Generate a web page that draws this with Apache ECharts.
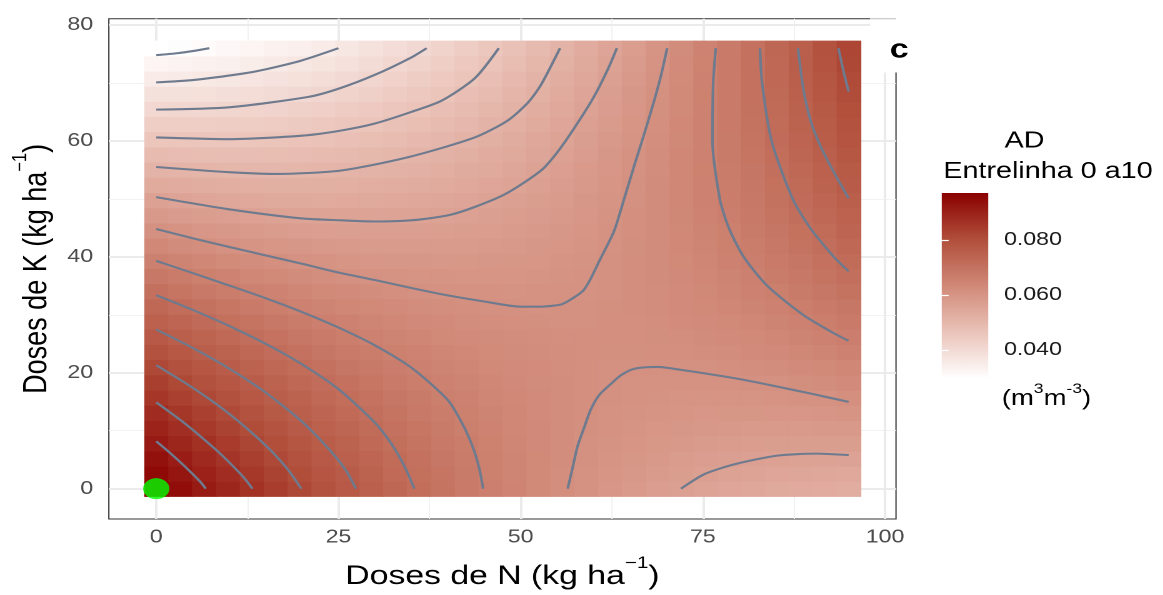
<!DOCTYPE html>
<html>
<head>
<meta charset="utf-8">
<script src="https://cdn.jsdelivr.net/npm/echarts@6/dist/echarts.min.js"></script>
<style>
  html, body { margin: 0; padding: 0; background: #ffffff; overflow: hidden; }
  /* the figure is drawn on a narrower canvas and widened horizontally */
  #chart { width: 930.4px; height: 595px; transform: scaleX(1.25); transform-origin: 0 0; }
</style>
</head>
<body>
<div id="chart"></div>
<script>
// N doses (columns of the surface grid), kg/ha
const doseN = [0, 3.28, 6.55, 9.83, 13.10, 16.38, 19.66, 22.93, 26.21, 29.48, 32.76, 36.03, 39.31, 42.59, 45.86,
  49.14, 52.41, 55.69, 58.97, 62.24, 65.52, 68.79, 72.07, 75.34, 78.62, 81.90, 85.17, 88.45, 91.72, 95.00];
// K doses (rows of the surface grid), kg/ha
const doseK = [0, 2.62, 5.24, 7.86, 10.48, 13.10, 15.72, 18.34, 20.97, 23.59, 26.21, 28.83, 31.45, 34.07, 36.69,
  39.31, 41.93, 44.55, 47.17, 49.79, 52.41, 55.03, 57.66, 60.28, 62.90, 65.52, 68.14, 70.76, 73.38, 76.00];

// AD (m3 m-3), one row per K dose, one value per N dose
const adGrid = [
  [0.09700,0.09421,0.09151,0.08891,0.08639,0.08397,0.08164,0.07939,0.07724,0.07518,0.07321,0.07134,0.06955,0.06785,0.06625,0.06473,0.06331,0.06198,0.06074,0.05959,0.05853,0.05756,0.05668,0.05590,0.05520,0.05460,0.05408,0.05366,0.05333,0.05309],
  [0.09518,0.09251,0.08992,0.08744,0.08503,0.08273,0.08051,0.07837,0.07634,0.07439,0.07254,0.07078,0.06911,0.06752,0.06604,0.06463,0.06333,0.06211,0.06098,0.05995,0.05900,0.05815,0.05738,0.05672,0.05613,0.05565,0.05524,0.05493,0.05472,0.05459],
  [0.09333,0.09077,0.08830,0.08593,0.08364,0.08145,0.07935,0.07732,0.07540,0.07357,0.07183,0.07019,0.06863,0.06716,0.06579,0.06450,0.06330,0.06220,0.06119,0.06027,0.05944,0.05870,0.05805,0.05750,0.05703,0.05666,0.05636,0.05617,0.05607,0.05606],
  [0.09145,0.08900,0.08664,0.08439,0.08221,0.08013,0.07815,0.07624,0.07443,0.07272,0.07109,0.06956,0.06812,0.06676,0.06550,0.06433,0.06325,0.06226,0.06137,0.06056,0.05984,0.05922,0.05868,0.05824,0.05789,0.05763,0.05745,0.05738,0.05739,0.05749],
  [0.08952,0.08719,0.08495,0.08281,0.08074,0.07878,0.07691,0.07512,0.07342,0.07182,0.07031,0.06890,0.06757,0.06632,0.06518,0.06412,0.06316,0.06229,0.06150,0.06081,0.06021,0.05970,0.05927,0.05895,0.05871,0.05857,0.05851,0.05854,0.05867,0.05889],
  [0.08756,0.08535,0.08322,0.08119,0.07924,0.07740,0.07564,0.07396,0.07238,0.07089,0.06950,0.06820,0.06698,0.06585,0.06482,0.06388,0.06303,0.06227,0.06160,0.06103,0.06054,0.06014,0.05983,0.05963,0.05950,0.05947,0.05952,0.05967,0.05992,0.06025],
  [0.08557,0.08347,0.08145,0.07954,0.07771,0.07597,0.07433,0.07277,0.07130,0.06993,0.06865,0.06746,0.06636,0.06535,0.06443,0.06360,0.06287,0.06222,0.06167,0.06121,0.06083,0.06055,0.06036,0.06026,0.06025,0.06034,0.06050,0.06077,0.06113,0.06157],
  [0.08354,0.08155,0.07965,0.07785,0.07613,0.07452,0.07299,0.07154,0.07019,0.06893,0.06776,0.06669,0.06570,0.06480,0.06400,0.06329,0.06267,0.06214,0.06170,0.06135,0.06109,0.06092,0.06084,0.06087,0.06097,0.06117,0.06145,0.06183,0.06230,0.06286],
  [0.08147,0.07960,0.07782,0.07613,0.07453,0.07302,0.07161,0.07027,0.06904,0.06789,0.06684,0.06589,0.06501,0.06423,0.06354,0.06294,0.06243,0.06202,0.06169,0.06146,0.06132,0.06126,0.06130,0.06143,0.06165,0.06196,0.06236,0.06285,0.06344,0.06412],
  [0.07937,0.07761,0.07594,0.07437,0.07288,0.07149,0.07019,0.06897,0.06785,0.06682,0.06588,0.06504,0.06428,0.06361,0.06304,0.06255,0.06216,0.06186,0.06165,0.06153,0.06150,0.06156,0.06171,0.06196,0.06229,0.06272,0.06323,0.06384,0.06454,0.06533],
  [0.07724,0.07559,0.07403,0.07258,0.07120,0.06993,0.06874,0.06764,0.06663,0.06572,0.06489,0.06416,0.06352,0.06296,0.06251,0.06213,0.06186,0.06167,0.06158,0.06157,0.06165,0.06183,0.06209,0.06246,0.06290,0.06345,0.06407,0.06480,0.06561,0.06651],
  [0.07506,0.07353,0.07209,0.07075,0.06949,0.06833,0.06726,0.06626,0.06537,0.06457,0.06386,0.06325,0.06272,0.06228,0.06194,0.06168,0.06151,0.06144,0.06146,0.06157,0.06177,0.06206,0.06244,0.06292,0.06348,0.06413,0.06487,0.06571,0.06664,0.06766],
  [0.07285,0.07144,0.07011,0.06888,0.06774,0.06669,0.06573,0.06486,0.06408,0.06339,0.06280,0.06230,0.06188,0.06156,0.06133,0.06118,0.06114,0.06118,0.06131,0.06154,0.06185,0.06225,0.06275,0.06334,0.06401,0.06479,0.06564,0.06659,0.06764,0.06877],
  [0.07061,0.06931,0.06810,0.06698,0.06595,0.06502,0.06418,0.06341,0.06275,0.06218,0.06170,0.06132,0.06101,0.06080,0.06069,0.06066,0.06072,0.06088,0.06113,0.06147,0.06190,0.06241,0.06302,0.06373,0.06452,0.06540,0.06637,0.06744,0.06860,0.06984],
  [0.06833,0.06714,0.06604,0.06505,0.06413,0.06331,0.06258,0.06194,0.06139,0.06093,0.06056,0.06029,0.06011,0.06001,0.06001,0.06009,0.06027,0.06055,0.06091,0.06136,0.06190,0.06254,0.06326,0.06408,0.06498,0.06599,0.06707,0.06825,0.06952,0.07088],
  [0.06601,0.06494,0.06396,0.06307,0.06227,0.06157,0.06095,0.06042,0.05999,0.05964,0.05939,0.05924,0.05916,0.05918,0.05930,0.05949,0.05979,0.06018,0.06065,0.06122,0.06188,0.06262,0.06346,0.06440,0.06541,0.06653,0.06773,0.06902,0.07041,0.07189],
  [0.06366,0.06270,0.06184,0.06107,0.06038,0.05979,0.05929,0.05887,0.05855,0.05832,0.05818,0.05814,0.05819,0.05832,0.05855,0.05886,0.05927,0.05977,0.06036,0.06104,0.06182,0.06268,0.06363,0.06468,0.06581,0.06704,0.06835,0.06976,0.07126,0.07285],
  [0.06128,0.06043,0.05968,0.05902,0.05845,0.05797,0.05759,0.05728,0.05708,0.05697,0.05694,0.05702,0.05717,0.05742,0.05776,0.05819,0.05871,0.05933,0.06003,0.06083,0.06172,0.06269,0.06376,0.06492,0.06617,0.06751,0.06894,0.07047,0.07208,0.07379],
  [0.05885,0.05812,0.05748,0.05694,0.05648,0.05612,0.05585,0.05566,0.05557,0.05557,0.05566,0.05585,0.05612,0.05648,0.05694,0.05748,0.05812,0.05885,0.05967,0.06058,0.06158,0.06267,0.06385,0.06513,0.06649,0.06795,0.06949,0.07113,0.07286,0.07468],
  [0.05640,0.05578,0.05525,0.05483,0.05448,0.05424,0.05408,0.05401,0.05403,0.05414,0.05435,0.05465,0.05504,0.05551,0.05609,0.05674,0.05749,0.05834,0.05927,0.06030,0.06141,0.06262,0.06391,0.06531,0.06678,0.06835,0.07001,0.07176,0.07361,0.07554],
  [0.05390,0.05340,0.05299,0.05268,0.05245,0.05231,0.05227,0.05231,0.05245,0.05268,0.05300,0.05342,0.05392,0.05451,0.05519,0.05596,0.05683,0.05779,0.05884,0.05998,0.06121,0.06253,0.06394,0.06544,0.06703,0.06872,0.07049,0.07236,0.07432,0.07637],
  [0.05137,0.05098,0.05069,0.05049,0.05037,0.05036,0.05043,0.05058,0.05084,0.05118,0.05161,0.05215,0.05276,0.05346,0.05427,0.05515,0.05613,0.05721,0.05837,0.05962,0.06097,0.06240,0.06392,0.06555,0.06725,0.06905,0.07094,0.07292,0.07499,0.07716],
  [0.04881,0.04853,0.04835,0.04827,0.04827,0.04836,0.04855,0.04882,0.04919,0.04964,0.05019,0.05084,0.05157,0.05239,0.05330,0.05430,0.05540,0.05659,0.05786,0.05923,0.06069,0.06224,0.06387,0.06561,0.06743,0.06935,0.07135,0.07344,0.07563,0.07791],
  [0.04620,0.04605,0.04598,0.04601,0.04612,0.04633,0.04664,0.04702,0.04750,0.04807,0.04874,0.04950,0.05034,0.05127,0.05230,0.05342,0.05463,0.05593,0.05732,0.05880,0.06038,0.06204,0.06379,0.06564,0.06758,0.06961,0.07172,0.07393,0.07623,0.07863],
  [0.04357,0.04352,0.04357,0.04372,0.04394,0.04427,0.04469,0.04518,0.04578,0.04647,0.04724,0.04812,0.04908,0.05012,0.05127,0.05250,0.05382,0.05524,0.05674,0.05834,0.06003,0.06181,0.06367,0.06564,0.06768,0.06983,0.07206,0.07438,0.07680,0.07931],
  [0.04089,0.04097,0.04113,0.04139,0.04173,0.04217,0.04270,0.04331,0.04402,0.04482,0.04571,0.04670,0.04778,0.04894,0.05020,0.05154,0.05298,0.05451,0.05613,0.05784,0.05964,0.06154,0.06352,0.06560,0.06776,0.07002,0.07236,0.07480,0.07733,0.07995],
  [0.03819,0.03837,0.03865,0.03902,0.03948,0.04003,0.04068,0.04140,0.04223,0.04314,0.04415,0.04526,0.04644,0.04772,0.04909,0.05055,0.05210,0.05375,0.05548,0.05731,0.05923,0.06123,0.06333,0.06552,0.06780,0.07017,0.07263,0.07518,0.07783,0.08056],
  [0.03544,0.03574,0.03613,0.03662,0.03719,0.03786,0.03862,0.03946,0.04040,0.04143,0.04255,0.04377,0.04507,0.04646,0.04795,0.04952,0.05119,0.05295,0.05480,0.05674,0.05877,0.06089,0.06310,0.06541,0.06780,0.07029,0.07286,0.07553,0.07829,0.08114],
  [0.03266,0.03308,0.03358,0.03418,0.03487,0.03565,0.03653,0.03748,0.03854,0.03968,0.04091,0.04225,0.04366,0.04517,0.04677,0.04846,0.05024,0.05211,0.05408,0.05613,0.05828,0.06051,0.06284,0.06526,0.06777,0.07037,0.07305,0.07584,0.07871,0.08168],
  [0.02985,0.03037,0.03099,0.03171,0.03251,0.03341,0.03440,0.03547,0.03664,0.03789,0.03924,0.04069,0.04222,0.04384,0.04556,0.04736,0.04926,0.05124,0.05332,0.05549,0.05775,0.06010,0.06254,0.06508,0.06770,0.07042,0.07321,0.07554,0.07910,0.08218]
];

// iso-lines of AD, points given as [N, K]
const contourL1  = [[0,8.19],[2,6.06],[4,3.75],[6,1.25],[6.8,0]];
const contourL2  = [[0,14.9],[4,11.19],[8,6.94],[10,4.56],[12,1.94],[13.2,0]];
const contourL3a = [[0,21.31],[5,17.42],[10,12.92],[15,7.48],[18,3.4],[19.9,0]];
const contourL3b = [[93.6,76],[94.3,72],[95,68.5]];
const contourL4a = [[0,27.46],[5,24.29],[10,20.73],[15,16.6],[20,11.56],[24,6.4],[26,3.2],[27.4,0]];
const contourL4b = [[88.05,76],[88.6,70.5],[89.05,67.2],[89.9,63],[91.0,59.5],[92.0,56.9],[93.5,53.4],[95,50.1]];
const contourL5a = [[0,33.38],[5,30.85],[10,28.08],[15,25],[20,21.46],[25,17.17],[30,11.4],[32.5,7.3],[34.2,3.5],[35.4,0]];
const contourL5b = [[82.83,76],[83.13,70],[84.43,60],[87.32,50],[89.72,45],[92.97,40],[94.58,38],[95,37.5]];
const contourL6a = [[0,39.3],[5,37.2],[10,35.06],[15,32.87],[20,30.48],[25,27.81],[30,24.73],[35,20.88],[40,15.3],[42,11.2],[43.4,7.3],[44.3,3.6],[44.85,0]];
const contourL6b = [[76.77,76],[76.42,70],[76.32,60],[77.32,50],[78.56,45],[80.6,40],[83.84,35],[88.75,30],[92.71,27],[95,25.5]];
const contourL7a = [[0,44.8],[5,43.2],[10,41.71],[15,40.25],[20,38.81],[25,37.3],[30,36.0],[35,34.63],[40,33.35],[45,32.3],[50,31.4],[52.4,31.4],[55.6,31.8],[57.2,32.9],[58.6,34.2],[59.6,36.2],[60.8,39.3],[62.8,44.4],[64.2,50],[65.6,55.8],[66.9,61],[68.1,66],[69.2,71],[70.1,76]];
const contourL7b = [[56.45,0],[57.2,4],[57.8,7.3],[58.7,10.5],[59.6,13.6],[60.8,16.2],[62.4,18.1],[63.8,19.6],[65.6,20.7],[68.8,21.0],[72,20.5],[75,19.94],[80,18.92],[85,17.67],[90,16.35],[95,14.98]];
const contourL8a = [[0,50.3],[10,48.2],[20,46.62],[25.4,46.3],[30,46.1],[35,46.3],[40,47.15],[43.7,48.6],[48,50.9],[52.8,54.9],[55,58.0],[57.4,62.3],[60,67.5],[62,72.46],[63.2,76]];
const contourL8b = [[72,0],[75.2,2.5],[79.3,4.2],[85.2,5.7],[90.6,6.05],[95,5.8]];
const contourL9  = [[0,55.5],[10,54.6],[16.3,54.3],[25.4,54.9],[34.6,57.2],[43.7,60.6],[48.2,63.5],[51,66.6],[52.8,69.7],[55.4,76]];
const contourL10 = [[0,60.6],[10,60.3],[20,60.9],[25.4,61.8],[30,63.0],[35,65.0],[39.1,66.9],[43.7,70.8],[47,76]];
const contourL11 = [[0,65.4],[10,65.8],[20.9,67.6],[25,69.0],[30,71.4],[35,74.4],[37.1,76]];
const contourL12 = [[0,70.1],[5,70.5],[11.8,71.6],[15,72.35],[20,73.9],[25,76]];
const contourL13 = [[0,74.8],[3,75.15],[5,75.5],[7.3,76]];

// highlighted treatment
const startPoint = [[0, 0]];

// axis ticks and panel grid lines
const nTicks = [0, 25, 50, 75, 100];
const kTicks = [0, 20, 40, 60, 80];
const nMinor = [12.5, 37.5, 62.5, 87.5];
const kMinor = [10, 30, 50, 70];
const legendTicks = [0.04, 0.06, 0.08];

// white -> darkred ramp
const ramp = ['#FFFFFF', '#EBC3B9', '#D18978', '#B14F3B', '#8B0000'];

const FONT = '"Liberation Sans", Arial, Helvetica, sans-serif';

const adFlat = adGrid.flat();
const adMin = Math.min(...adFlat);
const adMax = Math.max(...adFlat);
const stepN = (doseN[doseN.length - 1] - doseN[0]) / (doseN.length - 1);
const stepK = (doseK[doseK.length - 1] - doseK[0]) / (doseK.length - 1);

const heatData = [];
doseK.forEach((k, j) => doseN.forEach((n, i) => heatData.push([n, k, adGrid[j][i]])));

const contours = [contourL1, contourL2, contourL3a, contourL3b, contourL4a, contourL4b, contourL5a, contourL5b,
  contourL6a, contourL6b, contourL7a, contourL7b, contourL8a, contourL8b, contourL9, contourL10, contourL11,
  contourL12, contourL13];

const chart = echarts.init(document.getElementById('chart'), null, { renderer: 'canvas', devicePixelRatio: 2 });

const titleRich = {
  n: { fontSize: 27, fontFamily: FONT, color: '#000', lineHeight: 35, verticalAlign: 'bottom' },
  s: { fontSize: 16.5, fontFamily: FONT, color: '#000', lineHeight: 16, verticalAlign: 'top' }
};

function gridLines(values, color, width) {
  return {
    type: 'line', data: [], xAxisIndex: 0, yAxisIndex: 0, z: 1, silent: true,
    markLine: {
      z: 1, silent: true, animation: false, symbol: ['none', 'none'], label: { show: false },
      lineStyle: { color: color, width: width, type: 'solid' },
      data: values
    }
  };
}

const series = [
  gridLines(nMinor.map(v => ({ xAxis: v })).concat(kMinor.map(v => ({ yAxis: v }))), '#F2F2F2', 1),
  gridLines(nTicks.map(v => ({ xAxis: v })).concat(kTicks.map(v => ({ yAxis: v }))), '#EBEBEB', 2),
  {
    type: 'custom', xAxisIndex: 0, yAxisIndex: 0, data: heatData, encode: { x: 0, y: 1 },
    z: 3, silent: true, progressive: 0,
    renderItem(params, api) {
      const p = api.coord([api.value(0) - stepN / 2, api.value(1) + stepK / 2]);
      const s = api.size([stepN, stepK]);
      return {
        type: 'rect',
        shape: { x: p[0], y: p[1], width: s[0] + 0.6, height: s[1] + 0.6 },
        style: { fill: api.visual('color') }
      };
    }
  }
];

contours.forEach(pts => series.push({
  type: 'line', data: pts, xAxisIndex: 0, yAxisIndex: 0, showSymbol: false, symbol: 'none',
  smooth: 0.25, silent: true, z: 6,
  lineStyle: { color: '#6E7A8E', width: 2.1 }
}));

series.push({
  type: 'scatter', data: startPoint, xAxisIndex: 0, yAxisIndex: 0, symbol: 'circle', symbolSize: 21,
  itemStyle: { color: '#00FF00' }, z: 8, silent: true
});

// colour bar of the legend
series.push({
  type: 'custom', xAxisIndex: 1, yAxisIndex: 1, data: [[0, adMin, 1, adMax]], z: 1, silent: true,
  renderItem(params, api) {
    const a = api.coord([api.value(0), api.value(3)]);
    const b = api.coord([api.value(2), api.value(1)]);
    return {
      type: 'rect',
      shape: { x: a[0], y: a[1], width: b[0] - a[0], height: b[1] - a[1] },
      style: {
        fill: new echarts.graphic.LinearGradient(0, 1, 0, 0,
          ramp.map((c, i) => ({ offset: i / (ramp.length - 1), color: c })))
      }
    };
  }
});

chart.setOption({
  animation: false,
  backgroundColor: '#ffffff',
  grid: [
    { left: 85.2, top: 18.8, width: 631.6, height: 504.5, show: true, borderColor: '#333333', borderWidth: 1, backgroundColor: '#ffffff' },
    { left: 753.4, top: 193, width: 37.2, height: 185, show: false }
  ],
  xAxis: [
    {
      gridIndex: 0, type: 'value', min: -6.5, max: 101.5,
      axisLine: { show: false },
      axisTick: { show: true, length: 5, customValues: nTicks, lineStyle: { color: '#333333', width: 1 } },
      axisLabel: { customValues: nTicks, color: '#4D4D4D', fontSize: 18.5, fontFamily: FONT, margin: 9 },
      splitLine: { show: false },
      name: '{n|Doses de N (kg ha}{s|\u22121}{n|)}', nameLocation: 'middle', nameGap: 36,
      nameTextStyle: { fontSize: 27, fontFamily: FONT, color: '#000', rich: titleRich }
    },
    { gridIndex: 1, type: 'value', min: 0, max: 1, show: false }
  ],
  yAxis: [
    {
      gridIndex: 0, type: 'value', min: -5.23, max: 81.07,
      axisLine: { show: false },
      axisTick: { show: true, length: 4.4, customValues: kTicks, lineStyle: { color: '#333333', width: 1 } },
      axisLabel: { customValues: kTicks, color: '#4D4D4D', fontSize: 18.5, fontFamily: FONT, margin: 12.6 },
      splitLine: { show: false },
      name: '{n|Doses de K (kg ha}{s|\u22121}{n|)}', nameLocation: 'middle', nameGap: 41,
      nameTextStyle: { fontSize: 27, fontFamily: FONT, color: '#000', rich: titleRich }
    },
    {
      gridIndex: 1, type: 'value', min: adMin, max: adMax, position: 'right', z: 10,
      axisLine: { show: false }, splitLine: { show: false },
      axisTick: { show: true, inside: true, length: 5.5, customValues: legendTicks, lineStyle: { color: '#ffffff', width: 1.2 } },
      axisLabel: { customValues: legendTicks, formatter: v => v.toFixed(3), color: '#1A1A1A', fontSize: 18.5, fontFamily: FONT, margin: 12.6 }
    },
    {
      gridIndex: 1, type: 'value', min: adMin, max: adMax, position: 'left', z: 10,
      axisLine: { show: false }, splitLine: { show: false },
      axisTick: { show: true, inside: true, length: 5.5, customValues: legendTicks, lineStyle: { color: '#ffffff', width: 1.2 } },
      axisLabel: { show: false }
    }
  ],
  visualMap: {
    type: 'continuous', show: false, seriesIndex: 2, dimension: 2,
    min: adMin, max: adMax, inRange: { color: ramp }
  },
  graphic: [
    { type: 'rect', shape: { x: 696, y: 17.5, width: 40, height: 55 }, style: { fill: '#ffffff' }, z: 100 },
    { type: 'line', shape: { x1: 696, y1: 18.8, x2: 716.8, y2: 18.8 }, style: { stroke: '#BDBDBD', lineWidth: 1 }, z: 101 },
    { type: 'text', x: 719.4, y: 50, z: 101,
      style: { text: 'c', fill: '#000', fontSize: 27, fontWeight: 'bold', fontFamily: FONT, align: 'center', verticalAlign: 'middle' } },
    { type: 'text', x: 819.6, y: 141, z: 101,
      style: { text: 'AD', fill: '#000', fontSize: 23, fontFamily: FONT, align: 'center', verticalAlign: 'middle' } },
    { type: 'text', x: 754.6, y: 171.5, z: 101,
      style: { text: 'Entrelinha 0 a10', fill: '#000', fontSize: 23, fontFamily: FONT, align: 'left', verticalAlign: 'middle' } },
    { type: 'text', x: 801.4, y: 396, z: 101,
      style: {
        text: '{n|(m}{s|3}{n|m}{s|-3}{n|)}', fill: '#000', fontSize: 22, fontFamily: FONT, align: 'left', verticalAlign: 'middle',
        rich: {
          n: { fontSize: 22, fontFamily: FONT, fill: '#000', lineHeight: 28, verticalAlign: 'bottom' },
          s: { fontSize: 14, fontFamily: FONT, fill: '#000', lineHeight: 14, verticalAlign: 'top' }
        }
      } }
  ],
  series: series
});
</script>
</body>
</html>
